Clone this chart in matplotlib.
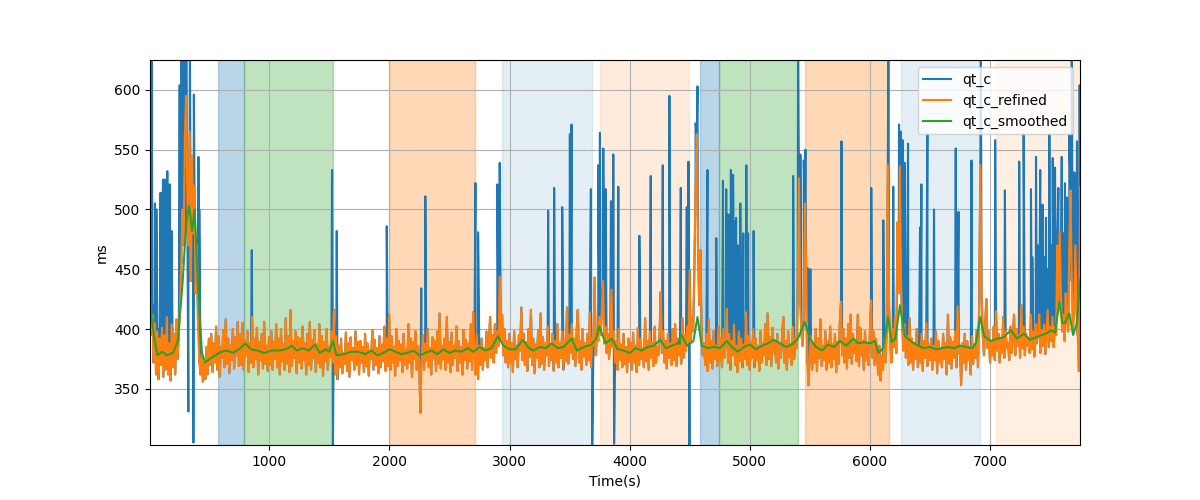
import numpy as np
import matplotlib
matplotlib.use('Agg')
import matplotlib.pyplot as plt

# refined QT values (ms), one every 10 s starting at t = 8 s (25 values per row = 250 s)
qt_c_refined = [
    425, 395, 412, 372, 405, 362, 398, 358, 392, 370, 401, 360, 395, 366, 410, 362, 388, 357, 404, 368, 396, 362, 408, 375, 398,
    420, 455, 500, 470, 560, 595, 520, 470, 565, 440, 545, 480, 520, 430, 470, 400, 372, 362, 380, 356, 372, 358, 385, 362, 392,
    370, 396, 364, 388, 372, 402, 366, 394, 360, 385, 376, 399, 368, 408, 371, 392, 363, 386, 374, 400, 367, 393, 378, 406, 369,
    396, 370, 405, 366, 390, 378, 398, 364, 388, 372, 410, 368, 392, 375, 401, 362, 389, 374, 396, 367, 406, 371, 386, 365, 393,
    370, 398, 366, 389, 375, 404, 368, 392, 362, 400, 373, 387, 366, 409, 371, 394, 364, 416, 369, 390, 376, 398, 363, 393, 372,
    392, 367, 402, 374, 388, 362, 396, 370, 406, 366, 391, 376, 399, 364, 387, 372, 404, 368, 394, 361, 389, 373, 400, 366, 385,
    377, 398, 372, 416, 362, 394, 358, 386, 368, 392, 363, 380, 371, 397, 365, 388, 360, 393, 374, 384, 366, 398, 370, 389, 362,
    390, 372, 385, 364, 396, 369, 388, 361, 382, 375, 399, 366, 391, 370, 384, 363, 394, 368, 387, 373, 402, 365, 392, 369, 412,
    366, 394, 372, 385, 361, 400, 369, 390, 374, 387, 364, 396, 370, 383, 367, 404, 372, 392, 360, 389, 375, 398, 366, 386, 371,
    330, 372, 395, 366, 388, 374, 400, 368, 384, 362, 393, 376, 390, 365, 398, 371, 413, 367, 386, 375, 392, 366, 410, 372, 389,
    364, 397, 370, 386, 376, 402, 365, 390, 372, 385, 362, 399, 374, 391, 367, 388, 373, 404, 366, 414, 380, 362, 395, 358, 386,
    370, 392, 366, 384, 374, 398, 368, 388, 410, 376, 395, 372, 404, 380, 398, 386, 444, 392, 412, 378, 400, 372, 390, 368, 396,
    372, 388, 364, 398, 375, 386, 368, 395, 382, 418, 374, 396, 370, 389, 365, 400, 377, 416, 370, 392, 363, 387, 376, 399, 368,
    413, 371, 393, 366, 388, 378, 402, 369, 386, 374, 396, 365, 390, 372, 404, 368, 388, 376, 398, 366, 391, 373, 418, 371, 395,
    380, 404, 375, 392, 369, 398, 416, 372, 390, 366, 400, 377, 388, 370, 396, 374, 414, 368, 392, 386, 443, 378, 398, 390, 410,
    395, 418, 440, 388, 402, 380, 396, 375, 391, 433, 385, 398, 372, 390, 366, 400, 374, 387, 368, 396, 371, 385, 364, 392, 373,
    388, 366, 397, 372, 386, 364, 401, 370, 392, 375, 384, 368, 409, 373, 390, 366, 398, 376, 388, 369, 402, 372, 385, 378, 396,
    431, 380, 398, 372, 390, 367, 396, 376, 388, 370, 400, 374, 404, 369, 392, 378, 386, 371, 409, 376, 395, 382, 402, 389, 449,
    390, 410, 398, 450, 520, 563, 470, 420, 466, 395, 378, 388, 370, 396, 365, 408, 372, 390, 367, 398, 375, 386, 369, 402, 374,
    392, 368, 400, 376, 388, 417, 372, 396, 366, 390, 378, 404, 370, 386, 364, 398, 373, 392, 368, 387, 375, 414, 370, 394, 366,
    389, 376, 400, 368, 392, 374, 386, 365, 398, 372, 388, 378, 404, 370, 413, 375, 393, 369, 401, 380, 390, 372, 396, 367, 388,
    376, 394, 410, 372, 390, 366, 398, 377, 387, 370, 402, 375, 392, 384, 440, 526, 420, 398, 386, 410, 505, 450, 372, 353, 380,
    394, 366, 388, 372, 400, 365, 392, 376, 408, 369, 386, 374, 398, 366, 390, 372, 402, 368, 387, 375, 396, 364, 389, 371, 404,
    423, 378, 400, 372, 392, 367, 404, 376, 412, 371, 396, 380, 388, 373, 412, 369, 401, 378, 390, 366, 398, 374, 387, 370, 395,
    424, 376, 398, 370, 392, 380, 362, 386, 357, 378, 366, 392, 372, 398, 537, 420, 390, 372, 400, 385, 410, 380, 489, 430, 536,
    440, 398, 382, 404, 376, 394, 370, 409, 372, 392, 366, 388, 375, 400, 368, 386, 372, 396, 365, 390, 376, 405, 369, 387, 374,
    392, 366, 386, 374, 398, 363, 390, 372, 384, 368, 396, 375, 388, 362, 412, 371, 393, 367, 389, 376, 398, 368, 419, 380, 386,
    353, 388, 372, 396, 366, 390, 374, 385, 362, 394, 371, 387, 376, 399, 368, 420, 537, 430, 395, 378, 406, 425, 384, 398, 372,
    390, 378, 402, 374, 415, 382, 396, 372, 392, 380, 410, 376, 398, 384, 388, 374, 402, 380, 394, 412, 378, 400, 386, 395, 376,
    420, 384, 402, 378, 396, 386, 392, 380, 412, 383, 398, 377, 404, 388, 395, 412, 380, 399, 386, 404, 379, 397, 416, 385, 402,
    390, 410, 385, 402, 395, 470, 420, 482, 430, 398, 412, 390, 430, 405, 398, 470, 516, 440, 400, 412, 470, 420, 395, 365, 519,
]

# raw qt_c outliers (time s, ms); elsewhere qt_c == qt_c_refined
spike_t = [14, 22, 35, 49, 61, 80, 96, 116, 132, 145, 152, 172, 188, 200,
           255, 262, 270, 280, 291, 300, 310, 318, 327, 340, 352, 369, 373,
           390, 411, 418, 855, 1523, 1530, 1562, 1978, 2265, 2299, 2716,
           2738, 2899, 2918, 3321, 3371, 3438, 3502, 3516, 3677, 3688, 3738,
           3752, 3780, 3799, 3844, 3863, 3870, 3905, 4080, 4175, 4275, 4330,
           4425, 4475, 4489, 4497, 4548, 4564, 4647, 4720, 4776, 4803, 4815,
           4826, 4837, 4842, 4860, 4872, 4885, 4898, 4920, 4932, 4945, 4970,
           4985, 5031, 5360, 5401, 5420, 5448, 5462, 5481, 5503, 5762, 6010,
           6110, 6152, 6193, 6241, 6256, 6270, 6288, 6316, 6416, 6427, 6477,
           6532, 6713, 6736, 6844, 6922, 7041, 7122, 7241, 7278, 7339, 7350,
           7381, 7395, 7416, 7436, 7450, 7464, 7480, 7492, 7505, 7520, 7539,
           7550, 7567, 7580, 7595, 7610, 7622, 7639, 7658, 7668, 7678, 7690,
           7700, 7710, 7722, 7735, 7744]
spike_v = [568, 640, 420, 505, 500, 400, 514, 525, 525, 395, 532, 521, 482, 395,
           604, 520, 640, 560, 640, 480, 640, 520, 331, 640, 470, 305, 596,
           450, 544, 500, 466, 533, 303, 482, 486, 434, 511, 522,
           481, 521, 539, 499, 518, 502, 563, 571, 517, 303, 537,
           564, 551, 517, 507, 546, 304, 519, 478, 528, 537, 595,
           518, 502, 540, 303, 572, 603, 533, 476, 524, 517, 496,
           470, 496, 533, 529, 490, 493, 470, 505, 460, 480, 537,
           480, 482, 528, 640, 546, 541, 550, 451, 450, 557, 518,
           491, 640, 519, 571, 565, 558, 539, 555, 485, 521, 563,
           500, 551, 498, 541, 640, 558, 516, 540, 563, 517, 460,
           544, 470, 533, 504, 460, 493, 450, 563, 470, 543, 535,
           455, 518, 470, 544, 480, 522, 510, 563, 480, 640, 470,
           531, 480, 557, 460, 604]

# smoothed curve knots (time s, ms)
smooth_t = [8, 40, 70, 110, 150, 200, 240, 280, 310, 334, 358, 380, 405, 440,
            466, 520, 600, 650, 700, 760, 800, 850, 900, 960, 1020, 1080, 1140,
            1190, 1230, 1280, 1330, 1380, 1420, 1470, 1500, 1530, 1560, 1620,
            1680, 1740, 1800, 1850, 1900, 1950, 2000, 2050, 2100, 2150, 2200,
            2250, 2300, 2350, 2400, 2450, 2500, 2550, 2600, 2650, 2700, 2750,
            2800, 2850, 2902, 2950, 3000, 3050, 3110, 3160, 3200, 3250, 3300,
            3350, 3400, 3450, 3516, 3560, 3620, 3680, 3720, 3747, 3800, 3850,
            3900, 3950, 4000, 4050, 4100, 4150, 4200, 4253, 4300, 4350, 4400,
            4428, 4480, 4530, 4564, 4600, 4650, 4700, 4750, 4809, 4850, 4900,
            4950, 5000, 5050, 5100, 5150, 5198, 5250, 5300, 5350, 5400, 5456,
            5500, 5550, 5600, 5650, 5700, 5750, 5800, 5862, 5900, 5950, 6000,
            6040, 6070, 6110, 6149, 6180, 6210, 6249, 6290, 6338, 6400, 6450,
            6500, 6550, 6600, 6650, 6700, 6750, 6800, 6850, 6880, 6916, 6950,
            7005, 7060, 7110, 7172, 7220, 7280, 7330, 7380, 7430, 7480, 7506,
            7540, 7575, 7600, 7620, 7658, 7690, 7720, 7747]
smooth_v = [423, 395, 378, 381, 378, 380, 390, 440, 490, 503, 482, 500, 440, 380,
            372, 376, 381, 382, 380, 384, 388, 383, 382, 380, 382, 382, 383,
            386, 382, 384, 382, 387, 380, 383, 381, 390, 378, 379,
            381, 381, 379, 382, 378, 380, 383, 381, 379, 380, 382,
            378, 380, 382, 379, 383, 380, 382, 381, 384, 381, 385,
            382, 384, 394, 386, 383, 383, 391, 384, 382, 385, 384,
            388, 384, 385, 392, 382, 385, 387, 392, 402, 388, 392,
            383, 382, 380, 384, 382, 385, 386, 391, 384, 386, 388,
            395, 386, 390, 410, 386, 384, 385, 384, 390, 385, 381,
            385, 387, 383, 386, 388, 391, 388, 385, 387, 392, 406,
            392, 385, 382, 387, 385, 390, 386, 392, 388, 389, 388,
            390, 380, 384, 410, 389, 392, 420, 394, 390, 386, 384,
            385, 383, 384, 385, 384, 386, 385, 384, 388, 410, 394,
            390, 392, 393, 399, 392, 396, 391, 393, 395, 397, 399,
            397, 423, 405, 405, 413, 395, 405, 441]

# labelled segments (start s, end s, colour, alpha)
seg_start = [575, 794, 1993, 2935, 3752, 4586, 4739, 5462, 6254, 7052]
seg_end = [794, 1528, 2716, 3683, 4494, 4739, 5398, 6154, 6911, 7747]
seg_color = ['C0', 'C2', 'C1', 'C0', 'C1', 'C0', 'C2', 'C1', 'C0', 'C1']
seg_alpha = [0.3, 0.3, 0.3, 0.12, 0.15, 0.3, 0.3, 0.3, 0.12, 0.12]

t_ref = 8 + 10 * np.arange(len(qt_c_refined))
t_raw = np.concatenate([t_ref, spike_t])
v_raw = np.concatenate([qt_c_refined, spike_v])
order = np.argsort(t_raw, kind='stable')

fig, ax = plt.subplots(figsize=(12, 5), dpi=100)
for s, e, c, a in zip(seg_start, seg_end, seg_color, seg_alpha):
    ax.axvspan(s, e, color=c, alpha=a)

ax.plot(t_raw[order], v_raw[order], color='C0', label='qt_c')
ax.plot(t_ref, qt_c_refined, color='C1', label='qt_c_refined')
ax.plot(smooth_t, smooth_v, color='C2', label='qt_c_smoothed')

ax.set_xlim(8, 7747)
ax.set_ylim(303, 625)
ax.set_xlabel('Time(s)')
ax.set_ylabel('ms')
ax.grid(True)
ax.legend(loc='upper right')

fig.savefig('out.png', dpi=100)
